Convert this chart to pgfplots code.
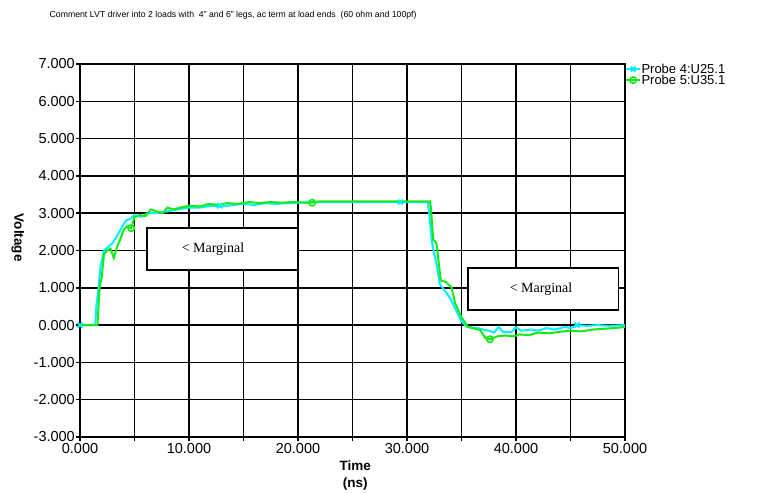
\documentclass[border=0pt]{standalone}
\usepackage{fontspec}
\setmainfont{Liberation Sans}
\newfontfamily\serifbox{Liberation Serif}
\usepackage{pgfplots}
\pgfplotsset{compat=1.18}

\definecolor{probecyan}{RGB}{0,240,255}
\definecolor{probegreen}{RGB}{20,235,20}

\begin{document}
\begin{tikzpicture}
\begin{axis}[
    scale only axis,
    width=545pt, height=373pt,
    xmin=0, xmax=50, ymin=-3, ymax=7,
    xtick={0,10,...,50},
    minor xtick={5,15,...,45},
    ytick={-3,-2,...,7},
    grid=both,
    major grid style={black, line width=1.5pt},
    minor grid style={black, line width=1.5pt},
    axis line style={black, line width=2pt},
    tick align=outside, tick pos=left,
    major tick length=4pt, minor tick length=4pt,
    tick style={black, line width=1.5pt},
    /pgf/number format/.cd, fixed, fixed zerofill, precision=3, assume math mode=true,
    /pgfplots/.cd,
    ticklabel style={font=\fontsize{14.5}{16}\selectfont},
    yticklabel style={inner sep=1pt},
    xticklabel style={inner sep=2pt},
    xlabel={Time\\(ns)},
    xlabel style={font=\bfseries\fontsize{13.5}{17.5}\selectfont, align=center, at={(axis description cs:0.505,0)}, anchor=north, yshift=-20pt},
    ylabel={Voltage},
    ylabel style={font=\bfseries\fontsize{13.5}{15}\selectfont, rotate=180, at={(axis description cs:-0.114,0.534)}, anchor=center},
    legend style={at={(axis description cs:1.0,1.0)}, anchor=north west,
        xshift=0pt, yshift=1pt,
        draw=none, fill=none, inner sep=0pt, row sep=-1pt,
        font=\fontsize{13}{13}\selectfont,
        nodes={inner sep=0.5pt},
        /tikz/every even column/.append style={column sep=6pt}},
    legend image code/.code={\path (0pt,0pt) -- (14pt,0pt);\draw[#1] plot coordinates {(7pt,0pt)};},
    legend cell align=left,
    clip=false,
]
% probe 4 (cyan)
\addplot[probecyan, line width=2pt, forget plot] coordinates {
(0,0)(1.4,0)(1.5,0.5)(1.7,1.0)(1.9,1.6)(2.2,2.0)(2.6,2.1)(3.0,2.2)(3.4,2.4)
(3.8,2.6)(4.2,2.8)(4.6,2.85)(5.0,2.95)(5.6,2.9)(6.2,3.0)(7.0,3.0)(8.0,3.05)
(9.0,3.1)(10.0,3.15)(11.0,3.15)(12.0,3.2)(13.0,3.18)(14.0,3.22)(15.0,3.25)
(16.0,3.22)(17.0,3.27)(18.0,3.25)(19.0,3.27)(20.0,3.28)(22.0,3.3)(31.9,3.3)
(32.0,3.1)(32.3,2.2)(32.8,1.5)(33.0,1.1)(33.4,0.95)(34.0,0.7)(34.5,0.4)
(35.0,0.1)(35.5,-0.05)(36.5,-0.08)(37.0,-0.12)(37.5,-0.15)(38.0,-0.2)
(38.4,-0.05)(38.8,-0.18)(39.6,-0.18)(40.0,-0.06)(40.5,-0.15)(41.5,-0.12)
(42.0,-0.15)(42.8,-0.08)(43.5,-0.12)(44.5,-0.05)(45.0,-0.08)(45.6,0.0)
(46.5,-0.02)(47.5,0.0)(48.5,-0.02)(50.0,0.0)
};
% probe 5 (green)
\addplot[probegreen, line width=2pt, forget plot] coordinates {
(0,0)(1.6,0)(1.8,1.0)(2.0,1.3)(2.2,1.9)(2.5,2.0)(2.8,2.05)(3.1,1.8)(3.4,2.1)
(3.7,2.3)(4.0,2.55)(4.3,2.65)(4.7,2.6)(5.0,2.9)(5.5,2.95)(6.0,2.92)(6.5,3.1)
(7.0,3.05)(7.6,3.0)(8.0,3.15)(8.6,3.1)(9.2,3.15)(10.0,3.2)(11.0,3.18)
(11.8,3.25)(12.6,3.22)(13.5,3.27)(14.5,3.25)(15.5,3.3)(16.5,3.27)(17.5,3.3)
(18.5,3.28)(19.5,3.3)(21.0,3.28)(22.0,3.32)(32.1,3.32)(32.2,3.13)(32.4,2.3)
(32.7,2.2)(32.9,1.7)(33.1,1.2)(33.6,1.15)(34.1,1.0)(34.4,0.6)(35.0,0.21)
(35.6,-0.05)(36.7,-0.13)(37.2,-0.35)(37.6,-0.38)(38.3,-0.3)(39.0,-0.28)
(39.8,-0.3)(40.3,-0.25)(41.2,-0.27)(42.0,-0.2)(43.0,-0.22)(44.0,-0.18)
(45.0,-0.15)(46.0,-0.17)(47.0,-0.12)(48.0,-0.1)(49.0,-0.08)(50.0,-0.05)
};
% markers
\addplot[only marks, mark=x, mark size=3.5pt, probecyan, line width=1.8pt]
    coordinates {(0,0)(12.8,3.2)(29.4,3.3)(45.6,0.0)};
\addlegendentry{Probe 4:U25.1}
\addplot[only marks, mark=o, mark size=3.2pt, probegreen, line width=1.6pt]
    coordinates {(4.7,2.6)(21.3,3.28)(37.6,-0.38)};
\addlegendentry{Probe 5:U35.1}

% annotation boxes
\draw[black, line width=1.6pt, fill=white] (axis cs:6.15,2.6) rectangle (axis cs:20,1.47);
\node[font=\serifbox\fontsize{14}{16}\selectfont] at (axis cs:12.2,2.03) {< Marginal};
\draw[black, line width=1.6pt, fill=white] (axis cs:35.6,1.53) rectangle (axis cs:49.4,0.40);
\node[font=\serifbox\fontsize{14}{16}\selectfont] at (axis cs:42.3,0.96) {< Marginal};

\node[font=\fontsize{8.7}{10}\selectfont] at (axis description cs:0.281,1.131)
    {Comment LVT driver into 2 loads with\ \ 4" and 6" legs, ac term at load ends\ \ (60 ohm and 100pf)};

\coordinate (ll) at (axis description cs:0,0);
\coordinate (ur) at (axis description cs:1,1);
\end{axis}
\pgfresetboundingbox
\path[use as bounding box] ([shift={(-80pt,-55pt)}]ll) rectangle ([shift={(142pt,64pt)}]ur);
\end{tikzpicture}
\end{document}
